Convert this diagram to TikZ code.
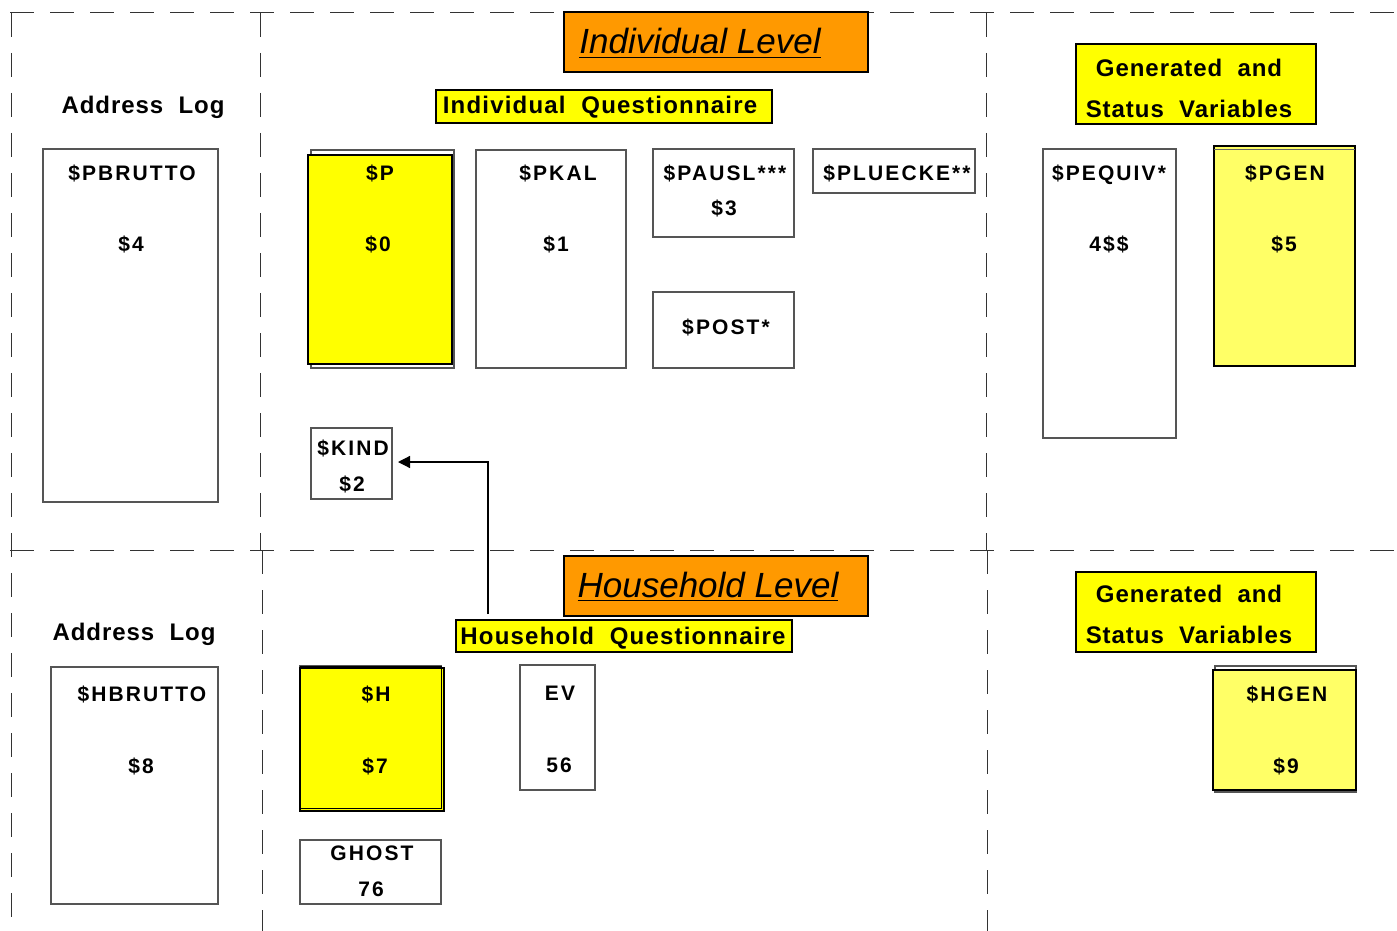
\documentclass[tikz,border=0pt]{standalone}
\usepackage{fontspec}
\setmainfont{Liberation Sans}
\newfontfamily\lsp[LetterSpace=10]{Liberation Sans}
\newfontfamily\lspb[LetterSpace=5]{Liberation Sans}
\newfontfamily\lspc[LetterSpace=4]{Liberation Sans}
\usetikzlibrary{arrows.meta}
\definecolor{orangeL}{HTML}{FF9900}
\definecolor{yelL}{HTML}{FFFF00}
\definecolor{paleY}{HTML}{FFFF66}
\definecolor{dashG}{HTML}{333333}
\definecolor{boxG}{HTML}{555555}
\newcommand\pbx[6]{\node[#6, anchor=north west, minimum width={(#4-#2)*0.5pt}, minimum height={(#5-#3)*0.5pt}] (#1) at (#2,#3) {};}
\begin{document}
\begin{tikzpicture}[x=0.5pt,y=-0.5pt,
  wbox/.style={draw=boxG, fill=white, line width=0.6pt, inner sep=0pt, outer sep=0pt},
  ybox/.style={draw=black, fill=yelL, line width=1pt, inner sep=0pt, outer sep=0pt},
  pbox/.style={draw=black, fill=paleY, line width=1pt, inner sep=0pt, outer sep=0pt},
  obox/.style={draw=black, fill=orangeL, line width=1pt, inner sep=0pt, outer sep=0pt},
  lab/.style={anchor=base, inner sep=0pt, font=\lsp\bfseries\fontsize{10.5}{12}\selectfont},
  big/.style={anchor=base, inner sep=0pt, font=\lspc\bfseries\fontsize{12}{14}\selectfont},
  qlab/.style={anchor=base, inner sep=0pt, font=\lspb\bfseries\fontsize{12}{14}\selectfont},
  lvl/.style={anchor=base, inner sep=0pt, font=\itshape\fontsize{17.5}{20}\selectfont},
  sep/.style={draw=dashG, line width=0.5pt, dash pattern=on 12pt off 8pt}
]
\useasboundingbox (0,0) rectangle (1397,931);
% separators
\draw[sep] (10,13) -- (1397,13);
\draw[sep] (10,550) -- (1397,550);
\draw[sep] (11,13) -- (11,931);
\draw[sep] (260,13) -- (260,550);
\draw[sep] (262,550) -- (262,931);
\draw[sep] (986,13) -- (986,550);
\draw[sep] (987,550) -- (987,931);

% ---------------- Individual level ----------------
\pbx{il}{564}{12}{868}{72}{obox}
\node[lvl] (ilt) at (700,54) {\underline{Individual Level}};
\pbx{iq}{436}{90}{772}{123}{ybox}
\node[qlab] (iqt) at (600,114) {Individual\ \ Questionnaire};
\node[big] (al1) at (143,114) {Address\ \ Log};

\pbx{pbrutto}{43}{149}{218}{502}{wbox}
\node[lab] (pbrutto1) at (132,180) {\$PBRUTTO};
\node[lab] (pbrutto2) at (131,251) {\$4};

\pbx{pback}{311}{150}{454}{368}{wbox}
\pbx{p}{308}{155}{452}{364}{ybox}
\node[lab] (p1) at (380,180) {\$P};
\node[lab] (p2) at (378,251) {\$0};

\pbx{pkal}{476}{150}{626}{368}{wbox}
\node[lab] (pkal1) at (558,180) {\$PKAL};
\node[lab] (pkal2) at (556,251) {\$1};

\pbx{pausl}{653}{149}{794}{237}{wbox}
\node[lab] (pausl1) at (725,180) {\$PAUSL***};
\node[lab] (pausl2) at (724,215) {\$3};

\pbx{pluecke}{813}{149}{975}{193}{wbox}
\node[lab] (pluecke1) at (897,180) {\$PLUECKE**};

\pbx{post}{653}{292}{794}{368}{wbox}
\node[lab] (post1) at (726,334) {\$POST*};

\pbx{kind}{311}{428}{392}{499}{wbox}
\node[lab] (kind1) at (353,455) {\$KIND};
\node[lab] (kind2) at (352,491) {\$2};

\pbx{gsv1}{1076}{44}{1316}{124}{ybox}
\node[big] (gsv1a) at (1189,77) {Generated\ \ and};
\node[big] (gsv1b) at (1189,118) {Status\ \ Variables};

\pbx{pequiv}{1043}{149}{1176}{438}{wbox}
\node[lab] (pequiv1) at (1109,180) {\$PEQUIV*};
\node[lab] (pequiv2) at (1109,251) {4\$\$};

\pbx{pgen}{1214}{146}{1355}{366}{pbox}
\draw[black!60, line width=0.4pt] (pgen.north west) ++(0,3) -- ++(141,0);
\node[lab] (pgen1) at (1285,180) {\$PGEN};
\node[lab] (pgen2) at (1284,251) {\$5};

% ---------------- Household level ----------------
\pbx{hl}{564}{556}{868}{616}{obox}
\node[lvl] (hlt) at (708,597) {\underline{Household Level}};
\pbx{hq}{456}{620}{792}{652}{ybox}
\node[qlab] (hqt) at (623,644) {Household\ \ Questionnaire};
\node[big] (al2) at (134,640) {Address\ \ Log};

\pbx{hbrutto}{51}{667}{218}{904}{wbox}
\node[lab] (hbrutto1) at (142,701) {\$HBRUTTO};
\node[lab] (hbrutto2) at (141,773) {\$8};

\pbx{hback}{300}{666}{441}{808}{wbox}
\pbx{h}{300}{668}{444}{811}{ybox}
\draw[black, line width=0.5pt] (300,666) -- (441,666) -- (441,808) -- (300,808);
\node[lab] (h1) at (376,701) {\$H};
\node[lab] (h2) at (375,773) {\$7};

\pbx{ev}{520}{665}{595}{790}{wbox}
\node[lab] (ev1) at (560,700) {EV};
\node[lab] (ev2) at (559,772) {56};

\pbx{ghost}{300}{840}{441}{904}{wbox}
\node[lab] (ghost1) at (372,860) {GHOST};
\node[lab] (ghost2) at (371,896) {76};

\pbx{gsv2}{1076}{572}{1316}{652}{ybox}
\node[big] (gsv2a) at (1189,602) {Generated\ \ and};
\node[big] (gsv2b) at (1189,643) {Status\ \ Variables};

\pbx{hgenback}{1215}{666}{1356}{792}{wbox}
\pbx{hgen}{1213}{670}{1356}{790}{pbox}
\node[lab] (hgen1) at (1287,701) {\$HGEN};
\node[lab] (hgen2) at (1286,773) {\$9};

% connector
\coordinate (src) at (488,614);
\draw[line width=0.6pt, -{Triangle[length=6pt,width=6pt]}, shorten >=3pt] (src) |- (kind.east |- 0,462);
\end{tikzpicture}
\end{document}
